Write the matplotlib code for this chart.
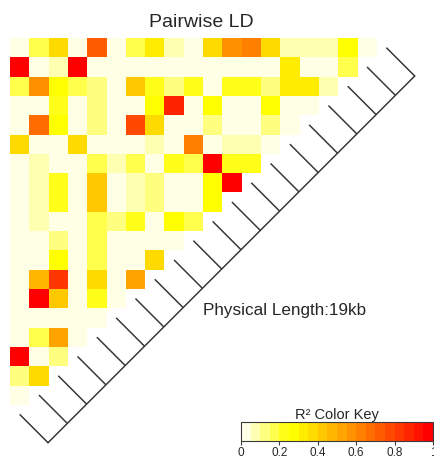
import numpy as np
import matplotlib
matplotlib.use("Agg")
import matplotlib.pyplot as plt
from matplotlib.colors import ListedColormap, Normalize, hsv_to_rgb
from matplotlib.cm import ScalarMappable

plt.rcParams['font.family'] = ['Liberation Sans', 'DejaVu Sans']

# pairwise r^2 between the 20 SNPs, one list per row of the staircase
ld_rows = [
    [.02, .15, .37, .02, .70, .02, .15, .30, .08, .02, .35, .57, .62, .35, .08, .08, .08, .27, .02],
    [.97, .02, .08, .97, .02, .02, .02, .02, .02, .02, .02, .02, .02, .02, .33, .02, .02, .15],
    [.15, .58, .27, .17, .10, .02, .44, .22, .10, .22, .02, .22, .22, .10, .33, .33, .08],
    [.02, .02, .22, .02, .12, .02, .02, .25, .88, .02, .25, .02, .02, .25, .02, .02],
    [.02, .67, .27, .02, .12, .02, .77, .35, .02, .02, .13, .02, .02, .13, .02],
    [.35, .02, .02, .35, .02, .02, .02, .08, .02, .62, .02, .08, .08, .02],
    [.02, .08, .02, .02, .15, .08, .15, .02, .20, .15, .97, .22, .22],
    [.02, .08, .22, .02, .42, .02, .08, .12, .02, .02, .27, .97],
    [.02, .08, .22, .02, .42, .02, .08, .12, .02, .02, .27],
    [.02, .08, .02, .02, .15, .10, .22, .02, .27, .15],
    [.02, .02, .10, .02, .15, .02, .02, .02, .02],
    [.02, .02, .27, .02, .15, .02, .02, .35],
    [.02, .47, .83, .02, .38, .02, .50],
    [.02, .97, .40, .02, .22, .02],
    [.02, .02, .02, .02, .02],
    [.02, .15, .50, .02],
    [.97, .02, .10],
    [.10, .35],
    [.02],
]

# physical positions of the SNPs (kb)
snp_kb = [0, 1, 2, 3, 4, 5, 6, 7, 8, 9, 10, 11, 12, 13, 14, 15, 16, 17, 18, 19]

key_ticks = [0, 0.2, 0.4, 0.6, 0.8, 1]
key_labels = ['0', '0.2', '0.4', '0.6', '0.8', '1']


def heat_colors(n):
    # same ramp as R's heat.colors(n)
    j = n // 4
    i = n - j
    cols = [hsv_to_rgb((h, 1, 1)) for h in np.linspace(0, 1 / 6, i)]
    cols += [hsv_to_rgb((1 / 6, s, 1)) for s in np.linspace(1 - 1 / (2 * j), 1 / (2 * j), j)]
    return cols


cmap = ListedColormap(heat_colors(20)[::-1])
line_col = '#3a3a3a'
text_col = '#262626'

W, H = 435, 461
fig = plt.figure(figsize=(W / 100, H / 100), dpi=100)

n = len(ld_rows)
cell = 19.3
x0, y0 = 10, 38
ax = fig.add_axes([x0 / W, 1 - (y0 + n * cell) / H, n * cell / W, n * cell / H])

ld = np.full((n, n), np.nan)
for r, vals in enumerate(ld_rows):
    ld[r, :len(vals)] = vals
ld = np.ma.masked_invalid(ld)

ax.imshow(ld, cmap=cmap, vmin=0, vmax=1, extent=(0, n, n, 0),
          interpolation='nearest', aspect='auto')
ax.set_xlim(0, n)
ax.set_ylim(n, 0)
ax.axis('off')

# SNP segments from the diagonal out to the physical-position line
pos = np.array(snp_kb, dtype=float)
t = (pos - pos[0]) / (pos[-1] - pos[0]) * n
d = 1.47
for k in range(n + 1):
    ax.plot([n + 0.5 - k, n + 0.5 - t[k] + d], [k + 0.5, t[k] + 0.5 + d],
            color=line_col, lw=1.1, clip_on=False, solid_capstyle='butt')
ax.plot([n + 0.5 - t[0] + d, n + 0.5 - t[-1] + d], [t[0] + 0.5 + d, t[-1] + 0.5 + d],
        color=line_col, lw=1.1, clip_on=False)

length_kb = int(round(pos[-1] - pos[0]))
ax.text(10.0, 14.35, 'Physical Length:%dkb' % length_kb, fontsize=12.3,
        color=text_col, ha='left', va='baseline')

fig.text(201 / W, 1 - 27 / H, 'Pairwise LD', fontsize=14, color=text_col,
         ha='center', va='baseline')

# colour key
kax = fig.add_axes([241 / W, 1 - 441 / H, 192 / W, 19 / H])
cb = fig.colorbar(ScalarMappable(norm=Normalize(0, 1), cmap=cmap), cax=kax,
                  orientation='horizontal', ticks=key_ticks)
cb.ax.set_xticklabels(key_labels)
kax.tick_params(length=3, width=0.8, labelsize=8.5, pad=1.5, color=line_col,
                labelcolor=text_col)
cb.outline.set_linewidth(0.8)
cb.outline.set_edgecolor(line_col)
kax.set_title('R² Color Key', fontsize=10.5, pad=1.5, color=text_col)

fig.savefig('out.png', dpi=100)
